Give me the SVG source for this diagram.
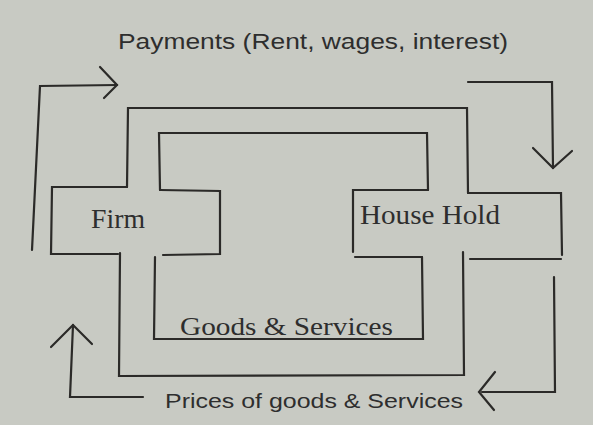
<svg xmlns="http://www.w3.org/2000/svg" width="593" height="425" viewBox="0 0 593 425">
<style>
.ln{fill:none;stroke:#2b2a28;stroke-width:2.2;stroke-linecap:round;stroke-linejoin:miter}
.sans{font-family:"Liberation Sans",Arial,sans-serif;fill:#2e2e2e}
.serif{font-family:"Liberation Serif","Times New Roman",serif;fill:#2e2e2e}
</style>
<rect width="593" height="425" fill="#c8cac3"/>
<g id="firm">
<polyline class="ln" points="127,187 52,187 51,254 118,254"/>
<polyline class="ln" points="163,255 220,254 220,191 160,190"/>
<text class="serif" x="91" y="228" font-size="27" textLength="54" lengthAdjust="spacingAndGlyphs">Firm</text>
</g>
<g id="household">
<polyline class="ln" points="428,190 353,190 353,252"/>
<polyline class="ln" points="468,193 561,193 562,255"/>
<polyline class="ln" points="355,257 422,257"/>
<polyline class="ln" points="470,259 561,259"/>
<text class="serif" x="360" y="224" font-size="27" textLength="140" lengthAdjust="spacingAndGlyphs">House Hold</text>
</g>
<g id="connectors">
<polyline class="ln" points="127,187 128,108 467,108 468,193"/>
<polyline class="ln" points="463,252 464,375 119,376 120,253"/>
<polyline class="ln" points="160,190 159,133 427,133 428,190"/>
<polyline class="ln" points="155,257 154,339 423,339 422,257"/>
<polyline class="ln" points="32,250 40,86 117,85"/>
<polyline class="ln" points="100,67 117,85 104,98"/>
<polyline class="ln" points="468,82 552,82 553,168"/>
<polyline class="ln" points="533,148 553,168 572,151"/>
<polyline class="ln" points="554,277 555,392 482,392"/>
<polyline class="ln" points="495,372 479,392 494,410"/>
<polyline class="ln" points="143,397 70,397 73,325"/>
<polyline class="ln" points="51,347 73,325 92,344"/>
</g>
<text class="sans" x="118" y="49" font-size="22" textLength="390" lengthAdjust="spacingAndGlyphs">Payments (Rent, wages, interest)</text>
<text class="serif" x="180" y="335" font-size="26" textLength="213" lengthAdjust="spacingAndGlyphs">Goods &amp; Services</text>
<text class="sans" x="165" y="408" font-size="20" textLength="298" lengthAdjust="spacingAndGlyphs">Prices of goods &amp; Services</text>
</svg>
